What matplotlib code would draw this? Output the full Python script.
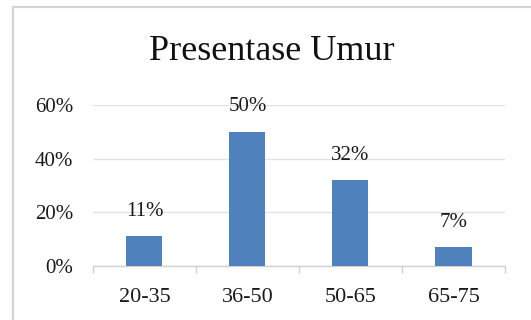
import numpy as np
import matplotlib
matplotlib.use('Agg')
import matplotlib.pyplot as plt
from matplotlib.lines import Line2D
from matplotlib.ticker import FixedLocator

kelompok = ['20-35', '36-50', '50-65', '65-75']
persen = [11, 50, 32, 7]
y_ticks = [0, 20, 40, 60]

plt.rcParams['font.family'] = ['Liberation Serif', 'DejaVu Serif']

fig = plt.figure(figsize=(5.31, 3.20), dpi=100)
ax = fig.add_axes([0.175, 0.169, 0.776, 0.503])

x = np.arange(len(kelompok))
ax.bar(x, persen, width=0.35, color='#4f81bd', zorder=3)

# label nilai di atas batang
for xi, v in zip(x, persen):
    ax.annotate('%d%%' % v, (xi, v), xytext=(0, 18), textcoords='offset points',
                ha='center', va='center', fontsize=15, color='#1a1a1a')

ax.set_xlim(-0.5, len(kelompok) - 0.5)
ax.set_ylim(0, 60)
ax.set_yticks(y_ticks)
ax.set_yticklabels(['%d%%' % t for t in y_ticks])
ax.set_xticks(x)
ax.set_xticklabels(kelompok)
ax.xaxis.set_minor_locator(FixedLocator(np.arange(-0.5, len(kelompok), 1.0)))

ax.grid(axis='y', color='#e3e3e3', linewidth=1, zorder=0)
for s in ['top', 'right', 'left']:
    ax.spines[s].set_visible(False)
ax.spines['bottom'].set_color('#d0d0d0')
ax.spines['bottom'].set_linewidth(1)

ax.tick_params(axis='y', length=0, pad=14, labelsize=15, labelcolor='#1a1a1a')
ax.tick_params(axis='x', which='major', length=0, pad=16, labelsize=16, labelcolor='#1a1a1a')
ax.tick_params(axis='x', which='minor', length=5, color='#d0d0d0', width=1)

fig.text(0.512, 0.84, 'Presentase Umur', ha='center', va='center', fontsize=26, color='#111111')

# bingkai chart
fx = 13 / 531
fy = 1 - 7 / 320
fig.add_artist(Line2D([fx, fx], [0, fy], transform=fig.transFigure, color='#d4d4d4', linewidth=1.6))
fig.add_artist(Line2D([fx, 1], [fy, fy], transform=fig.transFigure, color='#d4d4d4', linewidth=1.6))

fig.savefig('out.png', dpi=100)
